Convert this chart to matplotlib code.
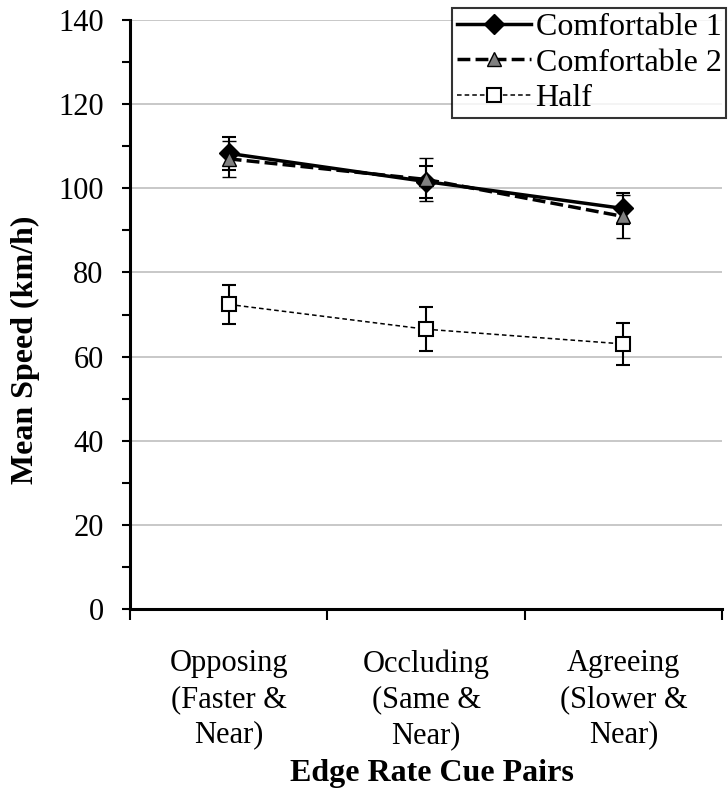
import matplotlib.pyplot as plt
from matplotlib.lines import Line2D
import numpy as np

plt.rcParams["font.family"] = ["Liberation Serif", "DejaVu Serif"]
plt.rcParams["font.size"] = 22

categories = ["Opposing\n(Faster &\nNear)", "Occluding\n(Same &\nNear)", "Agreeing\n(Slower &\nNear)"]
comf1 = [108.3, 101.6, 95.2]
comf1_err = [4.0, 3.8, 3.6]
comf2 = [107.0, 102.1, 93.3]
comf2_err = [4.3, 5.2, 5.0]
half = [72.4, 66.5, 63.0]
half_err = [4.6, 5.2, 5.0]

x = np.arange(len(categories))

fig = plt.figure(figsize=(7.28, 7.91), dpi=100)
ax = fig.add_axes([0.1786, 0.2301, 0.8132, 0.7446])

ax.yaxis.grid(True, color="#bfbfbf", linewidth=1.2)
ax.set_axisbelow(True)

styles = [
    dict(linestyle="-", linewidth=2.5, marker="D", markersize=10,
         markerfacecolor="black", markeredgecolor="black"),
    dict(linestyle=(0, (3.7, 1.5)), linewidth=2.5, marker="^", markersize=10,
         markerfacecolor="#808080", markeredgecolor="black", markeredgewidth=1),
    dict(linestyle=(0, (3, 2)), linewidth=1.1, marker="s", markersize=9.5,
         markerfacecolor="white", markeredgecolor="black", markeredgewidth=1.5),
]
labels = ["Comfortable 1", "Comfortable 2", "Half"]
series = [(comf1, comf1_err), (comf2, comf2_err), (half, half_err)]

ebar = dict(ecolor="black", elinewidth=1.5, capsize=4.7, capthick=1.5)
for (vals, errs), st, z in zip(series, styles, [4, 5, 4]):
    ax.errorbar(x, vals, yerr=errs, color="black", zorder=z, **st, **ebar)

ax.set_xlim(-0.5, 2.5)
ax.set_ylim(0, 140)
ax.set_yticks(np.arange(0, 141, 20))
ax.set_yticks(np.arange(0, 141, 10), minor=True)
ax.set_xticks([-0.5, 0.5, 1.5, 2.5])
ax.set_xticklabels([])
ax.set_xticks(x, minor=True)
ax.set_xticklabels(categories, minor=True, linespacing=1.3)
ax.tick_params(axis="x", which="minor", length=0, pad=29)
ax.tick_params(axis="x", which="major", direction="out", length=8, width=1.5)
ax.tick_params(axis="y", which="both", direction="out", length=6, width=1.5, pad=13)

for side in ["top", "right"]:
    ax.spines[side].set_visible(False)
for side in ["left", "bottom"]:
    ax.spines[side].set_linewidth(2.2)

ax.set_ylabel("Mean Speed (km/h)", fontweight="bold", fontsize=23)
ax.yaxis.set_label_coords(-0.152, 0.44)
ax.set_xlabel("Edge Rate Cue Pairs", fontweight="bold", fontsize=23)
ax.xaxis.set_label_coords(0.51, -0.254)

handles = [Line2D([], [], color="black", **st) for st in styles]
leg = ax.legend(handles, labels, loc="upper right", bbox_to_anchor=(1.007, 1.021),
                frameon=True, fancybox=False, edgecolor="black", fontsize=23,
                handlelength=2.3, handletextpad=0.15, borderpad=0.15,
                labelspacing=0.2, borderaxespad=0)
leg.get_frame().set_linewidth(1.5)

fig.savefig("out.png", dpi=100)
